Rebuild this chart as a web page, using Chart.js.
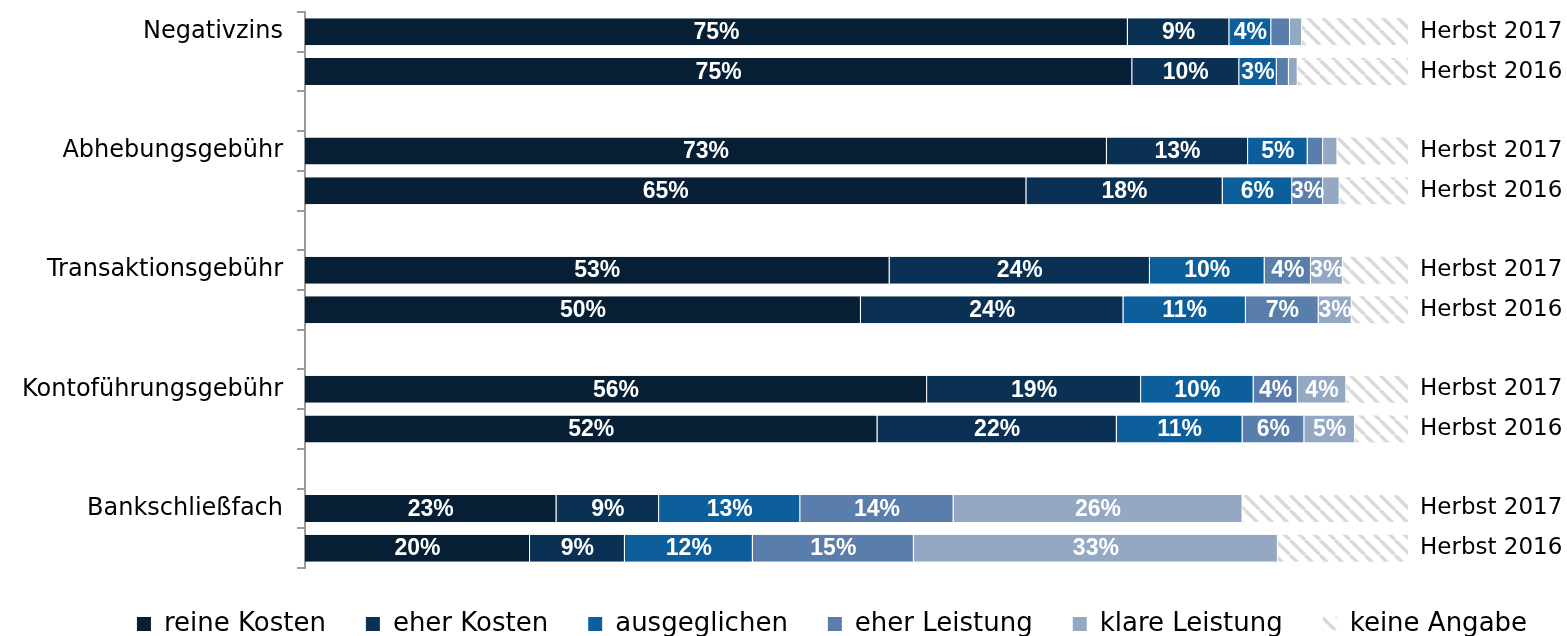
<!DOCTYPE html>
<html>
<head>
<meta charset="utf-8">
<script src="https://cdn.jsdelivr.net/npm/chart.js@4.4.1/dist/chart.umd.min.js"></script>
<style>
  html, body { margin: 0; padding: 0; background: #ffffff; }
  #wrap { width: 1567px; height: 636px; position: relative; }
</style>
</head>
<body>
<div id="wrap"><canvas id="c" width="1567" height="636"></canvas></div>
<script>
// ---- Data (row order: category 2017, category 2016, ...) ----
const categories = ['Negativzins', 'Abhebungsgebühr', 'Transaktionsgebühr', 'Kontoführungsgebühr', 'Bankschließfach'];
const periods = ['Herbst 2017', 'Herbst 2016'];
const seriesNames = ['reine Kosten', 'eher Kosten', 'ausgeglichen', 'eher Leistung', 'klare Leistung', 'keine Angabe'];

const reineKosten   = [74.6, 75.0, 72.7, 65.4, 53.0, 50.4, 56.4, 51.9, 22.8, 20.4];
const eherKosten    = [9.2, 9.7, 12.8, 17.8, 23.6, 23.8, 19.4, 21.7, 9.3, 8.6];
const ausgeglichen  = [3.8, 3.4, 5.4, 6.3, 10.4, 11.1, 10.2, 11.4, 12.8, 11.6];
const eherLeistung  = [1.7, 1.1, 1.4, 2.8, 4.2, 6.6, 4.0, 5.6, 13.9, 14.6];
const klareLeistung = [1.1, 0.8, 1.3, 1.5, 2.9, 3.0, 4.4, 4.6, 26.2, 33.0];
const keineAngabe   = [9.6, 10.0, 6.4, 6.3, 5.9, 5.1, 5.6, 4.8, 15.0, 11.8];

const seriesValues = [reineKosten, eherKosten, ausgeglichen, eherLeistung, klareLeistung, keineAngabe];

// ---- Styling ----
const FONT = "'DejaVu Sans', 'Liberation Sans', Arial, sans-serif";
const LABEL_FONT = "'Liberation Sans', Arial, sans-serif";
const seriesColors = ['#061f35', '#0a3153', '#0c5f9b', '#5a7eab', '#94a8c4'];

function hatchPattern() {
  const s = 15;
  const cv = document.createElement('canvas');
  cv.width = s; cv.height = s;
  const g = cv.getContext('2d');
  g.fillStyle = '#ffffff';
  g.fillRect(0, 0, s, s);
  g.strokeStyle = '#d9d9d9';
  g.lineWidth = 3.4;
  for (const k of [-s, 0, s]) {
    g.beginPath();
    g.moveTo(k, 0);
    g.lineTo(k + s, s);
    g.stroke();
  }
  return g.createPattern(cv, 'repeat');
}

// ---- Build rows with a gap row between categories ----
const leftLabels = [];
const rightLabels = [];
const rowIndex = []; // maps chart row -> data index or null
categories.forEach((cat, ci) => {
  periods.forEach((p, pi) => {
    leftLabels.push(pi === 0 ? cat : '');
    rightLabels.push(p);
    rowIndex.push(ci * periods.length + pi);
  });
  if (ci < categories.length - 1) {
    leftLabels.push('');
    rightLabels.push('');
    rowIndex.push(null);
  }
});

const hatch = hatchPattern();
const datasets = seriesNames.map((name, si) => ({
  label: name,
  data: rowIndex.map(r => r === null ? null : seriesValues[si][r]),
  backgroundColor: si < 5 ? seriesColors[si] : hatch,
  borderColor: 'rgba(255,255,255,0.45)',
  borderWidth: si < 5 ? { top: 0, right: 1, bottom: 0, left: 0 } : 0,
  borderSkipped: false,
  barPercentage: 0.68,
  categoryPercentage: 1.0,
  yAxisID: 'y'
}));

const valueLabels = {
  id: 'valueLabels',
  afterDatasetsDraw(chart) {
    const ctx = chart.ctx;
    ctx.save();
    ctx.font = "bold 23px " + LABEL_FONT;
    ctx.fillStyle = '#ffffff';
    ctx.textAlign = 'center';
    ctx.textBaseline = 'middle';
    chart.data.datasets.forEach((ds, di) => {
      if (di >= 5) return;
      const meta = chart.getDatasetMeta(di);
      meta.data.forEach((bar, i) => {
        const v = ds.data[i];
        if (v === null || v === undefined) return;
        const r = Math.round(v);
        if (r < 3) return;
        const x = (bar.x + bar.base) / 2;
        ctx.fillText(r + '%', x, bar.y + 1);
      });
    });
    ctx.restore();
  }
};

const axisGrey = '#9a9a9a';
function noVertPad(scale) { scale.paddingTop = 0; scale.paddingBottom = 0; }

new Chart(document.getElementById('c'), {
  type: 'bar',
  data: { labels: leftLabels, datasets },
  plugins: [valueLabels],
  options: {
    indexAxis: 'y',
    responsive: false,
    animation: false,
    layout: { padding: { top: 12, right: -97, bottom: -11, left: 0 } },
    scales: {
      x: {
        stacked: true,
        min: 0,
        max: 100,
        display: true,
        grid: { display: false, drawTicks: false },
        border: { display: false },
        ticks: { display: false },
        afterFit(scale) { scale.height = 3; scale.paddingLeft = 0; scale.paddingRight = 0; }
      },
      y: {
        type: 'category',
        stacked: true,
        position: 'left',
        offset: true,
        afterFit(scale) { scale.width = 305; noVertPad(scale); },
        grid: {
          offset: true,
          drawOnChartArea: false,
          drawTicks: true,
          tickLength: 8,
          color: axisGrey,
          lineWidth: 2
        },
        border: { display: true, color: axisGrey, width: 2 },
        ticks: {
          autoSkip: false,
          padding: 14,
          color: '#000000',
          font: { family: FONT, size: 24 }
        }
      },
      y2: {
        type: 'category',
        labels: rightLabels,
        position: 'right',
        offset: true,
        afterFit(scale) { scale.width = 256; noVertPad(scale); },
        grid: { display: false, drawTicks: false },
        border: { display: false },
        ticks: {
          autoSkip: false,
          padding: 12,
          color: '#000000',
          font: { family: FONT, size: 23 }
        }
      }
    },
    plugins: {
      tooltip: { enabled: false },
      legend: {
        position: 'bottom',
        labels: {
          boxWidth: 14,
          boxHeight: 14,
          padding: 40,
          color: '#000000',
          font: { family: FONT, size: 26 },
          generateLabels(chart) {
            const items = Chart.defaults.plugins.legend.labels.generateLabels(chart);
            items.forEach(it => { it.lineWidth = 0; it.strokeStyle = 'rgba(0,0,0,0)'; });
            return items;
          }
        }
      }
    }
  }
});
</script>
</body>
</html>
